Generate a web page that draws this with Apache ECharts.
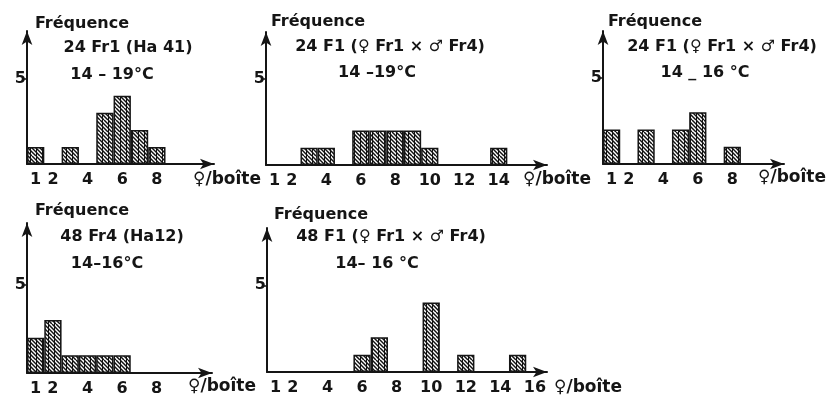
<!DOCTYPE html>
<html><head><meta charset="utf-8">
<script src="https://cdn.jsdelivr.net/npm/echarts@6/dist/echarts.min.js"></script>
<style>html,body{margin:0;padding:0;background:#fff}#c{width:829px;height:401px}</style>
</head><body><div id="c"></div>
<script>
// ---- data ----
const bins1 = [1, 3, 5, 6, 7, 8];
const freq1 = [1, 1, 3, 4, 2, 1];
const bins2 = [3, 4, 6, 7, 8, 9, 10, 14];
const freq2 = [1, 1, 2, 2, 2, 2, 1, 1];
const bins3 = [1, 3, 5, 6, 8];
const freq3 = [2, 2, 2, 3, 1];
const bins4 = [1, 2, 3, 4, 5, 6];
const freq4 = [2, 3, 1, 1, 1, 1];
const bins5 = [6, 7, 10, 12, 15];
const freq5 = [1, 2, 4, 1, 1];

const xTicks1 = [1, 2, 4, 6, 8];
const xTicks2 = [1, 2, 4, 6, 8, 10, 12, 14];
const xTicks3 = [1, 2, 4, 6, 8];
const xTicks4 = [1, 2, 4, 6, 8];
const xTicks5 = [1, 2, 4, 6, 8, 10, 12, 14, 16];
const yTicks = [5];

const titles = ['24 Fr1 (Ha 41)', '24 F1 (♀ Fr1 × ♂ Fr4)', '24 F1 (♀ Fr1 × ♂ Fr4)', '48 Fr4 (Ha12)', '48 F1 (♀ Fr1 × ♂ Fr4)'];
const temps = ['14 – 19°C', '14 –19°C', '14 _ 16 °C', '14–16°C', '14– 16 °C'];
const yName = 'Fréquence';
const xName = '♀/boîte';

// ---- layout ----
const panels = [
  {bins: bins1, freq: freq1, ticks: xTicks1, grid: {left: 27, top: 31, width: 187, height: 133}, xMax: 11.3, yMax: 7.8,
   txt: {f: [82, 24], t: [128, 48], c: [112, 75], x: [227, 180]}},
  {bins: bins2, freq: freq2, ticks: xTicks2, grid: {left: 266, top: 32, width: 281, height: 133}, xMax: 16.8, yMax: 7.7,
   txt: {f: [318, 22], t: [390, 47], c: [377, 73], x: [557, 180]}},
  {bins: bins3, freq: freq3, ticks: xTicks3, grid: {left: 603, top: 31, width: 181, height: 133}, xMax: 11.0, yMax: 7.7,
   txt: {f: [655, 22], t: [722, 47], c: [705, 73], x: [792, 178]}},
  {bins: bins4, freq: freq4, ticks: xTicks4, grid: {left: 27, top: 223, width: 185, height: 150}, xMax: 11.2, yMax: 8.5,
   txt: {f: [82, 211], t: [122, 237], c: [107, 264], x: [222, 387]}},
  {bins: bins5, freq: freq5, ticks: xTicks5, grid: {left: 267, top: 228, width: 280, height: 144}, xMax: 16.7, yMax: 8.3,
   txt: {f: [321, 215], t: [391, 237], c: [377, 264], x: [588, 388]}}
];

// hatch pattern
const tile = document.createElement('canvas');
tile.width = 12; tile.height = 12;
const g = tile.getContext('2d');
g.fillStyle = '#fff'; g.fillRect(0, 0, 12, 12);
g.strokeStyle = '#111'; g.lineWidth = 1.5;
for (let k = -12; k <= 12; k += 4) { g.beginPath(); g.moveTo(k, 0); g.lineTo(k + 12, 12); g.stroke(); }
g.lineWidth = 1;
[0.5, 6.5].forEach(x => { g.beginPath(); g.moveTo(x, 0); g.lineTo(x, 12); g.stroke(); });
const hatch = {image: tile, repeat: 'repeat'};

const FONT = '"DejaVu Sans", "Liberation Sans", sans-serif';
const INK = '#151515';
const axisLine = {show: true, onZero: false, symbol: ['none', 'arrow'], symbolSize: [8, 14], lineStyle: {color: INK, width: 2}};

const option = {
  backgroundColor: '#fff',
  animation: false,
  grid: panels.map(p => Object.assign({}, p.grid)),
  xAxis: panels.map((p, i) => ({
    type: 'value', gridIndex: i, min: 0.5, max: p.xMax,
    axisLine: axisLine, axisTick: {show: false}, splitLine: {show: false},
    axisLabel: {customValues: p.ticks, color: INK, fontWeight: 'bold', fontSize: 16, fontFamily: FONT, margin: 8}
  })),
  yAxis: panels.map((p, i) => ({
    type: 'value', gridIndex: i, min: 0, max: p.yMax,
    axisLine: axisLine, splitLine: {show: false},
    axisTick: {show: true, customValues: yTicks, length: 4, lineStyle: {color: INK, width: 1.5}},
    axisLabel: {customValues: yTicks, color: INK, fontWeight: 'bold', fontSize: 16, fontFamily: FONT, margin: 1}
  })),
  series: panels.map((p, i) => ({
    type: 'bar', xAxisIndex: i, yAxisIndex: i,
    barWidth: p.grid.width / (p.xMax - 0.5),
    data: p.bins.map((b, j) => [b, p.freq[j]]),
    itemStyle: {color: hatch, borderColor: INK, borderWidth: 1.5}
  })),
  graphic: []
};

function txt(s, pos, size) {
  return {type: 'text', x: pos[0], y: pos[1], silent: true,
    style: {text: s, fill: INK, font: 'bold ' + size + 'px ' + FONT, textAlign: 'center', textVerticalAlign: 'middle'}};
}
panels.forEach((p, i) => {
  option.graphic.push(txt(yName, p.txt.f, 16));
  option.graphic.push(txt(titles[i], p.txt.t, 16));
  option.graphic.push(txt(temps[i], p.txt.c, 16));
  option.graphic.push(txt(xName, p.txt.x, 17));
});

const chart = echarts.init(document.getElementById('c'));
chart.setOption(option);
</script>
</body></html>
